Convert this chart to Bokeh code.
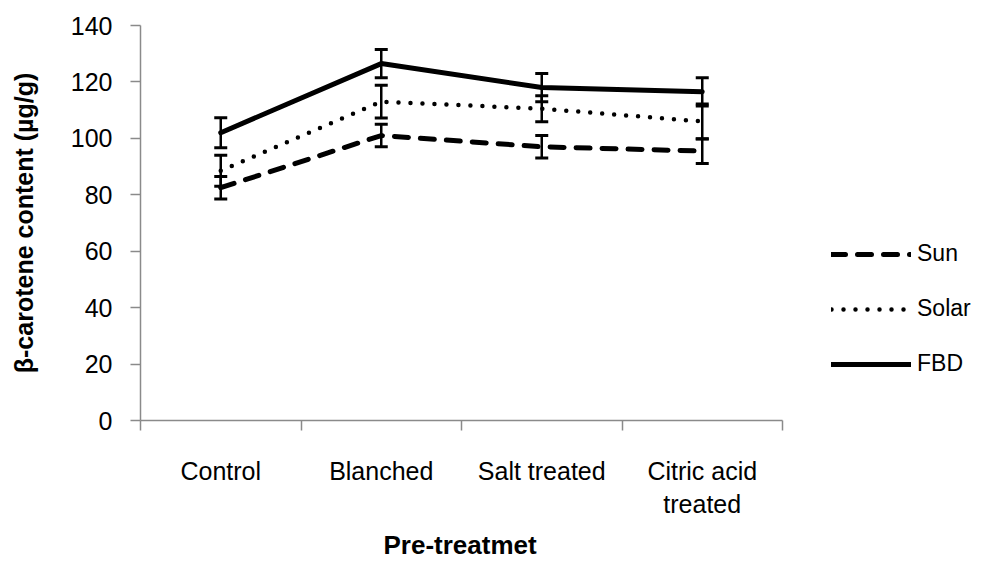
from bokeh.plotting import figure
from bokeh.models import (ColumnDataSource, Range1d, FixedTicker, LinearAxis,
                          Whisker, TeeHead, Legend, LegendItem, Title)
from bokeh.embed import file_html
from bokeh.resources import INLINE

categories = ["Control", "Blanched", "Salt treated", "Citric acid\ntreated"]
series_names = ["Sun", "Solar", "FBD"]
sun = [82.5, 101.0, 97.0, 95.5]
sun_err = [4.0, 4.0, 4.0, 4.4]
solar = [88.5, 113.0, 110.5, 106.0]
solar_err = [5.5, 5.8, 4.6, 6.2]
fbd = [102.0, 126.5, 118.0, 116.5]
fbd_err = [5.3, 5.0, 5.0, 5.0]
y_ticks = [0, 20, 40, 60, 80, 100, 120, 140]
x_title = "Pre-treatmet"
y_title = "β-carotene content (µg/g)"

REG = "Liberation Sans"
AXIS_COL = "#8a8a8a"

W, H = 972, 565
LEFT, TOP, BOTTOM = 140, 25, 145
PLOT_W = 642            # width of the category area in px
FRAME_W = W - LEFT      # frame reaches the right edge; legend sits in it
n = len(categories)
x_end = n * FRAME_W / PLOT_W

xpos = [i + 0.5 for i in range(n)]

p = figure(width=W, height=H, output_backend="svg", toolbar_location=None,
           x_range=Range1d(0, x_end), y_range=Range1d(0, 140),
           x_axis_location=None, y_axis_location=None,
           min_border_left=LEFT, min_border_top=TOP, min_border_right=0,
           min_border_bottom=BOTTOM)
p.outline_line_color = None
p.xgrid.visible = False
p.ygrid.visible = False

# y axis
yax = LinearAxis(ticker=FixedTicker(ticks=y_ticks, minor_ticks=[]))
yax.axis_label = y_title
yax.axis_label_text_font = REG
yax.axis_label_text_font_style = "bold"
yax.axis_label_text_font_size = "25px"
yax.axis_label_text_color = "#000000"
yax.axis_label_standoff = 30
yax.major_label_text_font = REG
yax.major_label_text_font_size = "25px"
yax.major_label_text_color = "#000000"
yax.major_label_standoff = 18
yax.axis_line_color = AXIS_COL
yax.axis_line_width = 1.5
yax.major_tick_line_color = AXIS_COL
yax.major_tick_line_width = 1.5
yax.major_tick_out = 10
yax.major_tick_in = 0
yax.minor_tick_line_color = None
p.add_layout(yax, "left")

# x axis: labels at category centres, tick marks at boundaries
xax = LinearAxis(ticker=FixedTicker(ticks=xpos, minor_ticks=list(range(n + 1))),
                 bounds=(0, n))
xax.major_label_overrides = {x: c for x, c in zip(xpos, categories)}
xax.major_label_text_font = REG
xax.major_label_text_font_size = "25px"
xax.major_label_text_color = "#000000"
xax.major_label_standoff = 26
xax.axis_line_color = AXIS_COL
xax.axis_line_width = 1.5
xax.major_tick_line_color = None
xax.major_tick_out = 0
xax.minor_tick_line_color = AXIS_COL
xax.minor_tick_line_width = 1.5
xax.minor_tick_out = 10
xax.minor_tick_in = 0
p.add_layout(xax, "below")

# x-axis title, centred under the category area (not the full frame)
xt = Title(text=x_title, align="left", offset=243,
           text_font=REG, text_font_style="bold", text_font_size="26px",
           text_color="#000000", standoff=12)
p.add_layout(xt, "below")

styles = {
    "Sun": dict(line_dash="14 12"),
    "Solar": dict(line_dash="0 12", line_width=4.5),
    "FBD": dict(line_dash="solid"),
}
data = {"Sun": (sun, sun_err), "Solar": (solar, solar_err), "FBD": (fbd, fbd_err)}

items = []
for name in series_names:
    vals, errs = data[name]
    src = ColumnDataSource(dict(x=xpos, y=vals,
                                upper=[v + e for v, e in zip(vals, errs)],
                                lower=[v - e for v, e in zip(vals, errs)]))
    kw = dict(line_width=5)
    kw.update(styles[name])
    r = p.line("x", "y", source=src, line_color="black", line_cap="round", **kw)
    items.append(LegendItem(label=name, renderers=[r]))
    w = Whisker(source=src, base="x", upper="upper", lower="lower",
                line_color="black", line_width=2.5,
                upper_head=TeeHead(size=13, line_width=3, line_color="black"),
                lower_head=TeeHead(size=13, line_width=3, line_color="black"))
    p.add_layout(w)

legend = Legend(items=items, location=(691, 43))
legend.label_text_font = REG
legend.label_text_font_size = "23px"
legend.label_text_color = "#000000"
legend.glyph_width = 80
legend.glyph_height = 24
legend.label_height = 24
legend.label_standoff = 6
legend.spacing = 28
legend.padding = 0
legend.margin = 0
legend.border_line_color = None
legend.background_fill_alpha = 0
p.add_layout(legend, "center")

open("out.html", "w").write(file_html(p, INLINE))
